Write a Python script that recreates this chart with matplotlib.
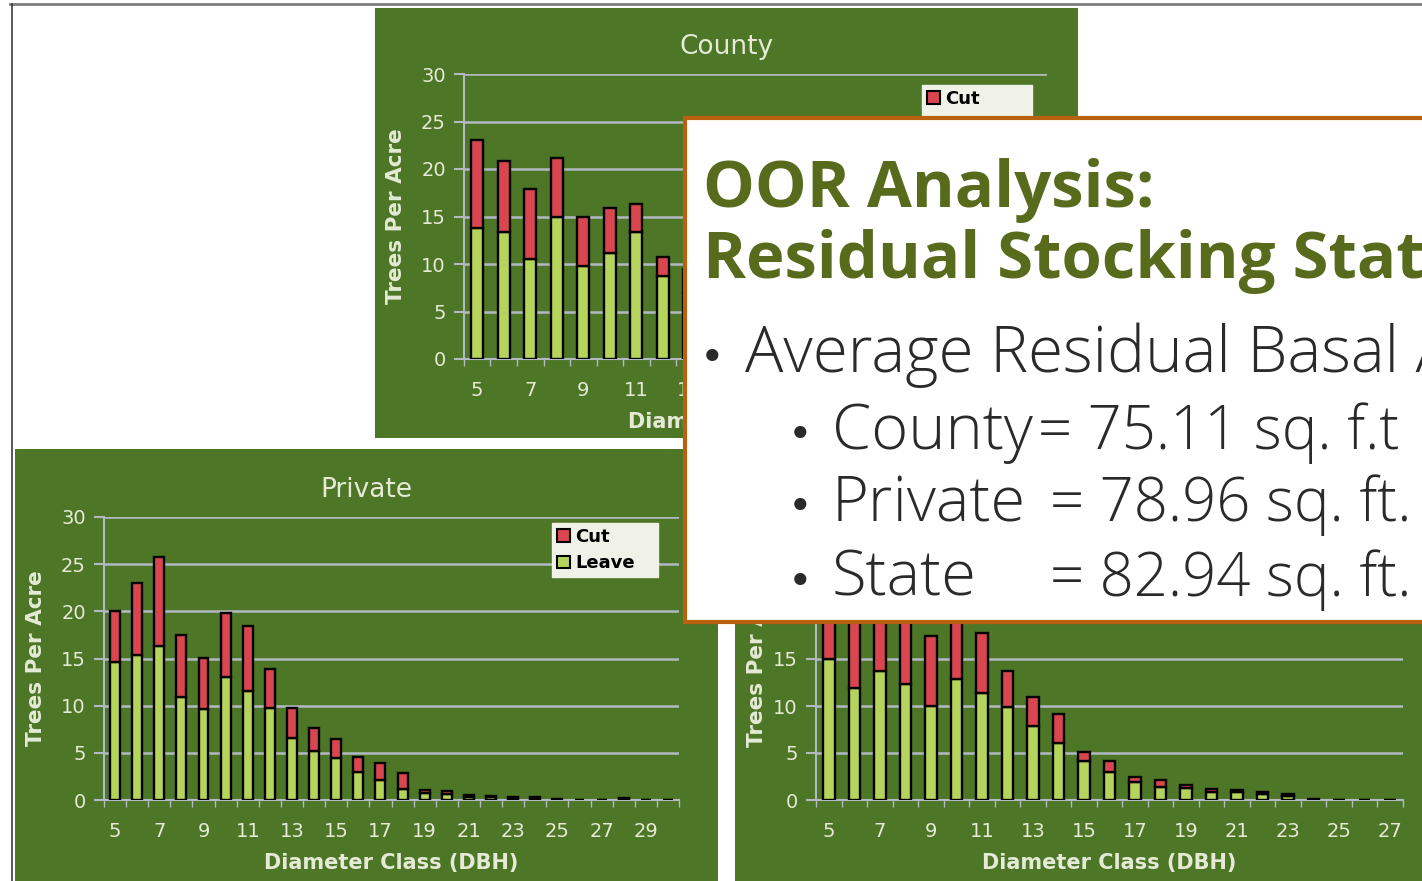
import numpy as np
import matplotlib
matplotlib.use('Agg')
import matplotlib.pyplot as plt
from matplotlib.patches import Rectangle, Patch
from matplotlib.lines import Line2D

W, H = 1422, 881

# data (trees per acre by diameter class)
county_dbh = list(range(5, 27))
county_leave = [13.8, 13.35, 10.5, 15.0, 9.8, 11.2, 13.35, 8.75, 7.0, 6.0, 4.5, 3.5, 2.5,
                2.0, 1.5, 1.0, 0.8, 0.5, 0.3, 0.2, 0.1, 0.1]
county_cut = [9.3, 7.45, 7.4, 6.2, 5.2, 4.7, 2.95, 1.95, 2.5, 2.0, 1.5, 1.0, 0.7,
              0.5, 0.3, 0.3, 0.2, 0.1, 0.1, 0.1, 0.0, 0.0]

private_dbh = list(range(5, 31))
private_leave = [14.6, 15.4, 16.3, 10.9, 9.6, 13.0, 11.6, 9.8, 6.6, 5.2, 4.5, 3.0, 2.1,
                 1.2, 0.7, 0.6, 0.3, 0.3, 0.2, 0.2, 0.05, 0.03, 0.03, 0.1, 0.03, 0.0]
private_cut = [5.4, 7.6, 9.5, 6.6, 5.4, 6.8, 6.8, 4.1, 3.2, 2.4, 2.0, 1.6, 1.8,
               1.7, 0.4, 0.4, 0.2, 0.1, 0.1, 0.1, 0.05, 0.02, 0.02, 0.1, 0.02, 0.0]

state_dbh = list(range(5, 28))
state_leave = [15.0, 11.9, 13.75, 12.3, 10.0, 12.9, 11.4, 9.9, 7.9, 6.1, 4.2, 3.0, 1.95,
               1.4, 1.3, 0.9, 0.8, 0.6, 0.4, 0.05, 0.03, 0.03, 0.03]
state_cut = [6.5, 10.1, 6.75, 11.2, 7.5, 7.6, 6.4, 3.85, 3.1, 3.0, 0.95, 1.2, 0.55,
             0.7, 0.3, 0.3, 0.3, 0.2, 0.2, 0.05, 0.02, 0.02, 0.02]

basal_labels = ["County", "Private", "State"]
basal_values = ["= 75.11 sq. f.t", "= 78.96 sq. ft.", "= 82.94 sq. ft."]

panelGreen = '#4e7627'
cutRed = '#d9464f'
leaveGreen = '#b6d45b'
gridGray = '#b1b9c2'
lightText = '#e4ead6'


def fx(x):
    return x / W


def fy(y):
    return 1 - y / H


def drawChart(fig, box, dbh, leave, cut, title, titleXY, ylabelX, xlabelY, legendBox, fs=14):
    left, top, right, bottom = box
    ax = fig.add_axes([fx(left), fy(bottom), (right - left) / W, (bottom - top) / H])
    ax.set_zorder(1)
    ax.patch.set_visible(False)
    ax.bar(dbh, leave, width=0.45, color=leaveGreen, edgecolor='black', linewidth=1.7, zorder=3)
    ax.bar(dbh, cut, bottom=leave, width=0.45, color=cutRed, edgecolor='black', linewidth=1.7, zorder=3)
    ax.set_xlim(dbh[0] - 0.5, dbh[-1] + 0.5)
    ax.set_ylim(0, 30)
    ax.set_yticks(range(0, 31, 5))
    ax.yaxis.grid(True, color=gridGray, linewidth=1.8)
    ax.set_axisbelow(True)
    ax.set_xticks(dbh[::2])
    ax.set_xticks(np.arange(dbh[0] - 0.5, dbh[-1] + 1), minor=True)
    ax.tick_params(axis='x', which='major', length=0, pad=16, labelsize=fs, labelcolor=lightText)
    ax.tick_params(axis='x', which='minor', length=5, width=1, color=gridGray)
    ax.tick_params(axis='y', length=7, width=1.5, color=gridGray, pad=6, labelsize=fs, labelcolor=lightText)
    for s in ['top', 'right']:
        ax.spines[s].set_visible(False)
    ax.spines['left'].set_color(gridGray)
    ax.spines['bottom'].set_color(gridGray)
    ax.spines['left'].set_linewidth(1.5)
    ax.spines['bottom'].set_linewidth(1.5)

    fig.text(fx(titleXY[0]), fy(titleXY[1]), title, color=lightText, fontsize=19,
             ha='center', va='center')
    fig.text(fx(ylabelX), fy((top + bottom) / 2), 'Trees Per Acre', color=lightText, fontsize=15.5,
             fontweight='bold', rotation=90, ha='center', va='center')
    fig.text(fx((left + right) / 2), fy(xlabelY), 'Diameter Class (DBH)', color=lightText,
             fontsize=15, fontweight='bold', ha='center', va='center')

    if legendBox is not None:
        handles = [Patch(facecolor=cutRed, edgecolor='black', linewidth=1.5),
                   Patch(facecolor=leaveGreen, edgecolor='black', linewidth=1.5)]
        lx0, ly0, lx1, ly1 = legendBox
        leg = ax.legend(handles, ['Cut', 'Leave'], loc='upper left',
                        bbox_to_anchor=(fx(lx0), fy(ly1), (lx1 - lx0) / W, (ly1 - ly0) / H),
                        bbox_transform=fig.transFigure, mode='expand', borderaxespad=0,
                        fancybox=False, framealpha=1, borderpad=0.28, handlelength=0.7,
                        handleheight=0.7, handletextpad=0.3, labelspacing=0.45,
                        prop={'size': 13, 'weight': 'bold'})
        leg.get_frame().set_facecolor('#f1f2e7')
        leg.get_frame().set_edgecolor('#f1f2e7')
    return ax


fig = plt.figure(figsize=(W / 100, H / 100), dpi=100)
fig.patch.set_facecolor('white')

# slide frame lines
fig.add_artist(Line2D([fx(10), fx(W)], [fy(4), fy(4)], color='#7d7d7d', linewidth=2))
fig.add_artist(Line2D([fx(12), fx(12)], [fy(4), fy(H)], color='#3c3c3c', linewidth=1.2))

# green chart panels
for (x0, y0, x1, y1) in [(375, 8, 1078, 438), (15, 449, 718, 881), (735, 449, 1422, 881)]:
    fig.patches.append(Rectangle((fx(x0), fy(y1)), (x1 - x0) / W, (y1 - y0) / H,
                                 transform=fig.transFigure, facecolor=panelGreen,
                                 edgecolor='none', zorder=-1))

drawChart(fig, (464, 74, 1047, 359), county_dbh, county_leave, county_cut, 'County',
          (727, 47), 396, 422, (922, 85, 1032, 139))
drawChart(fig, (104, 517, 679, 800), private_dbh, private_leave, private_cut, 'Private',
          (366, 490), 36, 863, (552, 523, 658, 577))
drawChart(fig, (816, 518, 1403, 800), state_dbh, state_leave, state_cut, 'State',
          (1079, 490), 757, 863, None)

# white call-out box with the basal area summary
fig.patches.append(Rectangle((fx(685), fy(622)), (1440 - 685) / W, (622 - 118) / H,
                             transform=fig.transFigure, facecolor='white',
                             edgecolor='#b8620f', linewidth=3, zorder=5))

titleColor = '#586a1c'
titleFont = {'family': ['Open Sans', 'DejaVu Sans'], 'weight': 'bold'}
fig.text(fx(703), fy(207), 'OOR Analysis:', color=titleColor, fontsize=47,
         ha='left', va='baseline', zorder=6, **titleFont)
fig.text(fx(703), fy(278), 'Residual Stocking Statistics', color=titleColor, fontsize=47,
         ha='left', va='baseline', zorder=6, **titleFont)

bodyFont = {'family': ['Open Sans', 'DejaVu Sans'], 'weight': 'light'}
bodyColor = '#2a2a2a'
fig.text(fx(712), fy(371), '\u2022', color=bodyColor, fontsize=30, ha='center',
         va='baseline', zorder=6)
fig.text(fx(745), fy(372), 'Average Residual Basal Area', color=bodyColor, fontsize=46,
         ha='left', va='baseline', zorder=6, **bodyFont)

rowY = [449, 521, 596]
valueX = [1038, 1050, 1050]
for label, value, y, vx in zip(basal_labels, basal_values, rowY, valueX):
    fig.text(fx(800), fy(y - 1), '\u2022', color=bodyColor, fontsize=30, ha='center',
             va='baseline', zorder=6)
    fig.text(fx(832), fy(y), label, color=bodyColor, fontsize=45.5, ha='left',
             va='baseline', zorder=6, **bodyFont)
    fig.text(fx(vx), fy(y), value, color=bodyColor, fontsize=43, ha='left',
             va='baseline', zorder=6, **bodyFont)

fig.savefig('out.png', dpi=100, facecolor='white')
